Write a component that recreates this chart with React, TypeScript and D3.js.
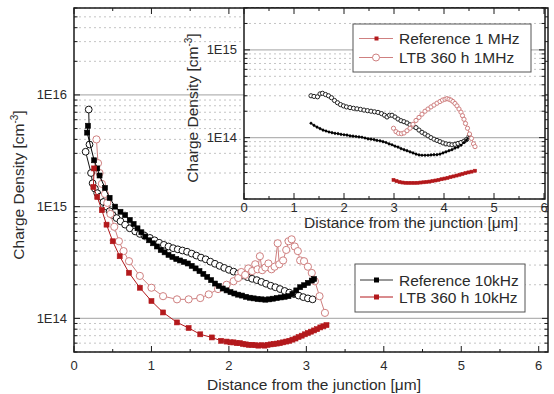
import * as d3 from 'd3';

type Pt = [number, number];

const mainXTicks = [0, 1, 2, 3, 4, 5, 6];
const mainYTicks = [1e14, 1e15, 1e16];
const insetXTicks = [0, 1, 2, 3, 4, 5, 6];
const insetYTicks = [1e14, 1e15];

// main panel (10 kHz)
const ref10k: Pt[] = [[0.18, 5.3e15], [0.17, 4.6e15], [0.26, 2.6e15], [0.30, 2.2e15], [0.33, 1.9e15], [0.40, 1.47e15], [0.46, 1.2e15], [0.53, 1.0e15], [0.60, 9.0e14], [0.66, 8.4e14], [0.72, 7.6e14], [0.77, 7.0e14], [0.82, 6.4e14], [0.87, 5.9e14], [0.92, 5.4e14], [0.97, 5.0e14], [1.02, 4.7e14], [1.07, 4.4e14], [1.12, 4.1e14], [1.17, 3.9e14], [1.22, 3.7e14], [1.27, 3.55e14], [1.32, 3.4e14], [1.37, 3.3e14], [1.42, 3.2e14], [1.47, 3.1e14], [1.52, 2.95e14], [1.57, 2.8e14], [1.62, 2.65e14], [1.67, 2.5e14], [1.72, 2.35e14], [1.77, 2.2e14], [1.82, 2.05e14], [1.87, 1.95e14], [1.92, 1.85e14], [1.97, 1.78e14], [2.02, 1.72e14], [2.07, 1.67e14], [2.12, 1.63e14], [2.17, 1.6e14], [2.22, 1.56e14], [2.27, 1.53e14], [2.32, 1.51e14], [2.37, 1.49e14], [2.42, 1.48e14], [2.47, 1.47e14], [2.52, 1.48e14], [2.57, 1.5e14], [2.62, 1.52e14], [2.67, 1.54e14], [2.72, 1.56e14], [2.77, 1.58e14], [2.82, 1.65e14], [2.87, 1.78e14], [2.92, 1.9e14], [2.97, 1.98e14], [3.02, 2.08e14], [3.07, 2.18e14], [3.10, 2.25e14]];
const ltb10k: Pt[] = [[0.26, 2.2e15], [0.25, 1.5e15], [0.30, 1.22e15], [0.36, 9.3e14], [0.42, 6.9e14], [0.50, 4.9e14], [0.59, 3.6e14], [0.71, 2.56e14], [0.85, 1.88e14], [1.00, 1.43e14], [1.15, 1.13e14], [1.33, 9.2e13], [1.48, 8.2e13], [1.63, 7.2e13], [1.78, 6.75e13], [1.90, 6.3e13], [1.97, 6.2e13], [2.02, 6.1e13], [2.06, 6.1e13], [2.10, 6.0e13], [2.14, 6.0e13], [2.18, 5.9e13], [2.22, 5.85e13], [2.26, 5.8e13], [2.30, 5.8e13], [2.34, 5.75e13], [2.38, 5.7e13], [2.42, 5.75e13], [2.46, 5.7e13], [2.50, 5.8e13], [2.54, 5.85e13], [2.58, 5.9e13], [2.62, 5.95e13], [2.66, 6.0e13], [2.70, 6.1e13], [2.74, 6.2e13], [2.78, 6.3e13], [2.82, 6.45e13], [2.86, 6.6e13], [2.90, 6.8e13], [2.94, 7.0e13], [2.98, 7.2e13], [3.02, 7.4e13], [3.06, 7.6e13], [3.10, 7.8e13], [3.14, 8.0e13], [3.18, 8.3e13], [3.22, 8.5e13], [3.26, 8.7e13]];
const refOpen: Pt[] = [[0.19, 7.4e15], [0.20, 3.6e15], [0.15, 3.1e15], [0.22, 2.0e15], [0.24, 1.62e15], [0.27, 1.45e15], [0.30, 1.32e15], [0.34, 1.23e15], [0.38, 1.1e15], [0.42, 1.0e15], [0.46, 9.1e14], [0.50, 8.4e14], [0.55, 7.9e14], [0.60, 7.4e14], [0.66, 6.9e14], [0.72, 6.4e14], [0.79, 6.0e14], [0.85, 5.7e14], [0.91, 5.5e14], [0.98, 5.25e14], [1.04, 5.0e14], [1.10, 4.75e14], [1.16, 4.55e14], [1.22, 4.4e14], [1.28, 4.25e14], [1.34, 4.15e14], [1.40, 4.05e14], [1.46, 3.95e14], [1.52, 3.8e14], [1.58, 3.65e14], [1.64, 3.5e14], [1.70, 3.38e14], [1.76, 3.22e14], [1.82, 3.08e14], [1.88, 2.95e14], [1.94, 2.83e14], [2.00, 2.72e14], [2.06, 2.62e14], [2.12, 2.52e14], [2.18, 2.42e14], [2.24, 2.34e14], [2.30, 2.26e14], [2.36, 2.2e14], [2.42, 2.12e14], [2.48, 2.04e14], [2.54, 1.96e14], [2.60, 1.9e14], [2.66, 1.83e14], [2.72, 1.76e14], [2.78, 1.7e14], [2.84, 1.65e14], [2.90, 1.6e14], [2.96, 1.55e14], [3.02, 1.51e14], [3.08, 1.48e14]];
const ltbOpen: Pt[] = [[0.29, 4.0e15], [0.31, 2.45e15], [0.33, 2.0e15], [0.36, 1.6e15], [0.40, 1.3e15], [0.43, 1.08e15], [0.47, 8.6e14], [0.52, 6.6e14], [0.58, 4.9e14], [0.64, 4.0e14], [0.71, 3.25e14], [0.85, 2.4e14], [1.00, 1.88e14], [1.15, 1.58e14], [1.33, 1.48e14], [1.48, 1.48e14], [1.63, 1.52e14], [1.74, 1.64e14], [1.86, 1.83e14], [1.97, 2.0e14], [2.06, 2.15e14], [2.12, 2.3e14], [2.16, 2.6e14], [2.21, 2.45e14], [2.25, 2.8e14], [2.30, 2.65e14], [2.34, 3.05e14], [2.37, 2.75e14], [2.40, 3.6e14], [2.43, 2.7e14], [2.47, 2.85e14], [2.51, 3.1e14], [2.55, 2.75e14], [2.59, 2.9e14], [2.63, 4.7e14], [2.65, 3.05e14], [2.70, 3.3e14], [2.74, 4.1e14], [2.77, 4.9e14], [2.81, 5.1e14], [2.85, 4.4e14], [2.89, 4.0e14], [2.92, 3.3e14], [2.97, 3.25e14], [3.02, 2.9e14], [3.07, 2.55e14], [3.11, 2.15e14], [3.17, 1.58e14], [3.24, 1.12e14]];

// inset panel (1 MHz)
const insetBlackOpen: Pt[] = [[1.34, 3.0e14], [1.40, 2.95e14], [1.47, 2.92e14], [1.52, 3.15e14], [1.57, 3.2e14], [1.63, 3.1e14], [1.69, 3.0e14], [1.75, 2.85e14], [1.81, 2.65e14], [1.87, 2.5e14], [1.93, 2.38e14], [1.99, 2.3e14], [2.05, 2.24e14], [2.12, 2.2e14], [2.19, 2.16e14], [2.26, 2.13e14], [2.33, 2.1e14], [2.40, 2.06e14], [2.47, 2.03e14], [2.54, 2.0e14], [2.61, 1.97e14], [2.68, 1.94e14], [2.75, 1.88e14], [2.81, 1.8e14], [2.86, 1.72e14], [2.91, 1.8e14], [2.96, 1.8e14], [3.02, 1.72e14], [3.08, 1.63e14], [3.14, 1.56e14], [3.20, 1.52e14], [3.26, 1.47e14], [3.32, 1.4e14], [3.38, 1.35e14], [3.44, 1.3e14], [3.50, 1.22e14], [3.56, 1.15e14], [3.62, 1.1e14], [3.68, 1.05e14], [3.74, 1.0e14], [3.80, 9.6e13], [3.86, 9.3e13], [3.92, 9.0e13], [3.98, 8.7e13], [4.04, 8.5e13], [4.10, 8.4e13], [4.16, 8.3e13], [4.22, 8.4e13], [4.28, 8.6e13], [4.34, 8.8e13], [4.40, 9.1e13], [4.45, 9.5e13], [4.50, 1.03e14]];
const insetBlackDot: Pt[] = [[1.34, 1.46e14], [1.40, 1.38e14], [1.46, 1.32e14], [1.52, 1.27e14], [1.58, 1.22e14], [1.64, 1.19e14], [1.70, 1.16e14], [1.76, 1.14e14], [1.82, 1.12e14], [1.88, 1.11e14], [1.94, 1.09e14], [2.00, 1.08e14], [2.06, 1.07e14], [2.12, 1.05e14], [2.18, 1.04e14], [2.24, 1.03e14], [2.30, 1.02e14], [2.36, 1.01e14], [2.42, 9.9e13], [2.48, 9.7e13], [2.54, 9.6e13], [2.60, 9.5e13], [2.66, 9.3e13], [2.72, 9.2e13], [2.78, 9.0e13], [2.84, 8.8e13], [2.90, 8.5e13], [2.96, 8.3e13], [3.02, 8.0e13], [3.08, 7.8e13], [3.14, 7.5e13], [3.20, 7.3e13], [3.26, 7.1e13], [3.32, 6.9e13], [3.38, 6.7e13], [3.44, 6.5e13], [3.50, 6.35e13], [3.56, 6.3e13], [3.62, 6.3e13], [3.68, 6.3e13], [3.74, 6.35e13], [3.80, 6.4e13], [3.86, 6.4e13], [3.92, 6.5e13], [3.98, 6.7e13], [4.04, 6.9e13], [4.10, 7.1e13], [4.16, 7.3e13], [4.22, 7.6e13], [4.28, 7.8e13], [4.34, 8.2e13], [4.40, 8.8e13], [4.45, 9.4e13], [4.51, 1.07e14]];
const ltb1M: Pt[] = [[2.99, 1.28e14], [3.04, 1.17e14], [3.09, 1.12e14], [3.15, 1.11e14], [3.20, 1.13e14], [3.26, 1.2e14], [3.32, 1.28e14], [3.38, 1.42e14], [3.44, 1.57e14], [3.50, 1.7e14], [3.56, 1.85e14], [3.62, 2.0e14], [3.68, 2.12e14], [3.74, 2.24e14], [3.80, 2.35e14], [3.86, 2.47e14], [3.92, 2.58e14], [3.97, 2.68e14], [4.02, 2.74e14], [4.06, 2.78e14], [4.10, 2.74e14], [4.14, 2.68e14], [4.18, 2.58e14], [4.22, 2.45e14], [4.26, 2.3e14], [4.30, 2.12e14], [4.34, 1.95e14], [4.37, 1.78e14], [4.40, 1.62e14], [4.43, 1.45e14], [4.47, 1.28e14], [4.51, 1.1e14], [4.55, 9.8e13], [4.59, 8.5e13], [4.62, 7.9e13]];
const ref1M: Pt[] = [[2.99, 3.3e13], [3.05, 3.2e13], [3.11, 3.12e13], [3.17, 3.08e13], [3.23, 3.06e13], [3.29, 3.05e13], [3.35, 3.05e13], [3.41, 3.05e13], [3.47, 3.06e13], [3.53, 3.08e13], [3.59, 3.1e13], [3.65, 3.13e13], [3.71, 3.16e13], [3.77, 3.2e13], [3.83, 3.25e13], [3.89, 3.3e13], [3.95, 3.36e13], [4.01, 3.42e13], [4.07, 3.48e13], [4.13, 3.55e13], [4.19, 3.62e13], [4.25, 3.7e13], [4.31, 3.78e13], [4.37, 3.86e13], [4.43, 3.94e13], [4.49, 4.02e13], [4.55, 4.1e13], [4.62, 4.2e13]];

const FONT = '"Liberation Sans", Arial, sans-serif';
const TXT = '#2b2b2b';
const RED = '#b3191c';
const PINK = '#cf8080';

type Lin = d3.ScaleLinear<number, number>;
type Log = d3.ScaleLogarithmic<number, number>;

function Grid({ x, y }: { x: Lin; y: Log }) {
  const [x0, x1] = x.range();
  const majors = y.ticks().filter((v) => Math.abs(Math.log10(v) - Math.round(Math.log10(v))) < 1e-9);
  const minors = y.ticks().filter((v) => !majors.includes(v));
  return (
    <g>
      {minors.map((v) => (
        <line key={'m' + v} x1={x0} x2={x1} y1={y(v)} y2={y(v)} stroke="#c4c4c4" strokeDasharray="2,3" />
      ))}
      {majors.map((v) => (
        <line key={'M' + v} x1={x0} x2={x1} y1={y(v)} y2={y(v)} stroke="#b4b4b4" strokeWidth={1.2} />
      ))}
    </g>
  );
}

function Axes({ x, y, xTicks, yTicks, xLabelDy }: { x: Lin; y: Log; xTicks: number[]; yTicks: number[]; xLabelDy: number }) {
  const [x0, x1] = x.range();
  const [y0, y1] = y.range();
  const xMinor = x.ticks(12).filter((v) => !xTicks.includes(v));
  const yMinor = y.ticks().filter((v) => !yTicks.includes(v));
  const ink = '#1a1a1a';
  return (
    <g fontFamily={FONT} fill={TXT}>
      {xTicks.map((v) => (
        <g key={'xt' + v}>
          <line x1={x(v)} x2={x(v)} y1={y0} y2={y0 - 6} stroke={ink} />
          <line x1={x(v)} x2={x(v)} y1={y1} y2={y1 + 6} stroke={ink} />
          <text x={x(v)} y={y0 + xLabelDy} textAnchor="middle" fontSize={13}>{v}</text>
        </g>
      ))}
      {xMinor.map((v) => (
        <g key={'xm' + v}>
          <line x1={x(v)} x2={x(v)} y1={y0} y2={y0 - 3} stroke={ink} />
          <line x1={x(v)} x2={x(v)} y1={y1} y2={y1 + 3} stroke={ink} />
        </g>
      ))}
      {yTicks.map((v) => (
        <g key={'yt' + v}>
          <line x1={x0} x2={x0 + 6} y1={y(v)} y2={y(v)} stroke={ink} />
          <line x1={x1} x2={x1 - 6} y1={y(v)} y2={y(v)} stroke={ink} />
          <text x={x0 - 7} y={y(v)} dy="0.35em" textAnchor="end" fontSize={13}>{`1E${Math.round(Math.log10(v))}`}</text>
        </g>
      ))}
      {yMinor.map((v) => (
        <g key={'ym' + v}>
          <line x1={x0} x2={x0 + 3.5} y1={y(v)} y2={y(v)} stroke={ink} />
          <line x1={x1} x2={x1 - 3.5} y1={y(v)} y2={y(v)} stroke={ink} />
        </g>
      ))}
      <rect x={x0} y={y1} width={x1 - x0} height={y0 - y1} fill="none" stroke={ink} strokeWidth={1.5} />
    </g>
  );
}

function Series({ data, x, y, shape, size, fill, stroke, lineColor }: {
  data: Pt[]; x: Lin; y: Log; shape: 'square' | 'circle' | 'dot'; size: number; fill: string; stroke: string; lineColor: string;
}) {
  const line = d3.line<Pt>().x((d) => x(d[0])).y((d) => y(d[1]));
  return (
    <g>
      <path d={line(data) ?? ''} fill="none" stroke={lineColor} strokeWidth={1} />
      {data.map((d, i) => {
        const cx = x(d[0]);
        const cy = y(d[1]);
        if (shape === 'square') return <rect key={i} x={cx - size / 2} y={cy - size / 2} width={size} height={size} fill={fill} stroke={stroke} strokeWidth={0.6} />;
        if (shape === 'dot') return <rect key={i} x={cx - size / 2} y={cy - size / 2} width={size} height={size} fill={fill} transform={`rotate(45 ${cx} ${cy})`} />;
        return <circle key={i} cx={cx} cy={cy} r={size} fill={fill} stroke={stroke} strokeWidth={1} />;
      })}
    </g>
  );
}

function YTitle({ x, y }: { x: number; y: number }) {
  return (
    <text transform={`translate(${x},${y}) rotate(-90)`} textAnchor="middle" fontSize={15.5} fontFamily={FONT} fill={TXT}>
      Charge Density [cm<tspan dy={-6} fontSize={10}>-3</tspan><tspan dy={6}>]</tspan>
    </text>
  );
}

export default function App() {
  const W = 554;
  const H = 394;
  const x = d3.scaleLinear().domain([0, 6.12]).range([74, 548]);
  const y = d3.scaleLog().domain([5e13, 6e16]).range([352, 8]);
  const xi = d3.scaleLinear().domain([0, 6.02]).range([244, 545]);
  const yi = d3.scaleLog().domain([2e13, 3e15]).range([199, 8]);

  return (
    <svg width={W} height={H} style={{ position: 'absolute', left: 0, top: 0, background: '#fff' }}>
      <rect width={W} height={H} fill="#fff" />
      <Grid x={x} y={y} />
      <Series data={refOpen} x={x} y={y} shape="circle" size={3.4} fill="#fff" stroke="#111" lineColor="#111" />
      <Series data={ltbOpen} x={x} y={y} shape="circle" size={3.6} fill="#fff" stroke={PINK} lineColor={PINK} />
      <Series data={ref10k} x={x} y={y} shape="square" size={5} fill="#000" stroke="#000" lineColor="#000" />
      <Series data={ltb10k} x={x} y={y} shape="square" size={5} fill={RED} stroke={RED} lineColor={RED} />
      <Axes x={x} y={y} xTicks={mainXTicks} yTicks={mainYTicks} xLabelDy={18} />
      <YTitle x={24} y={185} />
      <text x={314} y={390} textAnchor="middle" fontSize={15.5} fontFamily={FONT} fill={TXT}>Distance from the junction [μm]</text>

      <g fontFamily={FONT} fontSize={15.5} fill={TXT}>
        <rect x={355} y={264} width={170} height={48} fill="#fff" stroke="#555" />
        <line x1={360} x2={393} y1={280} y2={280} stroke="#333" />
        <rect x={374} y={277.5} width={5} height={5} fill="#000" />
        <text x={399} y={285.5}>Reference 10kHz</text>
        <line x1={360} x2={393} y1={297} y2={297} stroke={RED} />
        <rect x={374} y={294.5} width={5} height={5} fill={RED} />
        <text x={399} y={302.5}>LTB 360 h 10kHz</text>
      </g>

      <rect x={244} y={8} width={301} height={191} fill="#fff" />
      <Grid x={xi} y={yi} />
      <Series data={insetBlackOpen} x={xi} y={yi} shape="circle" size={2.1} fill="#fff" stroke="#222" lineColor="#222" />
      <Series data={insetBlackDot} x={xi} y={yi} shape="dot" size={2.6} fill="#000" stroke="#000" lineColor="#000" />
      <Series data={ltb1M} x={xi} y={yi} shape="circle" size={2.1} fill="#fff" stroke={PINK} lineColor={PINK} />
      <Series data={ref1M} x={xi} y={yi} shape="square" size={3} fill={RED} stroke={RED} lineColor={RED} />
      <Axes x={xi} y={yi} xTicks={insetXTicks} yTicks={insetYTicks} xLabelDy={13} />
      <YTitle x={198} y={108} />
      <text x={411} y={228} textAnchor="middle" fontSize={15.5} fontFamily={FONT} fill={TXT}>Distance from the junction [μm]</text>

      <g fontFamily={FONT} fontSize={15.5} fill={TXT}>
        <rect x={353} y={24} width={178} height={48} fill="#fff" stroke="#555" />
        <line x1={359} x2={393} y1={38.5} y2={38.5} stroke={PINK} />
        <rect x={374.5} y={36.5} width={4} height={4} fill={RED} />
        <text x={399} y={44}>Reference 1 MHz</text>
        <line x1={359} x2={393} y1={57.5} y2={57.5} stroke={PINK} />
        <circle cx={376} cy={57.5} r={3.5} fill="#fff" stroke={PINK} />
        <text x={399} y={63}>LTB 360 h 1MHz</text>
      </g>
    </svg>
  );
}
